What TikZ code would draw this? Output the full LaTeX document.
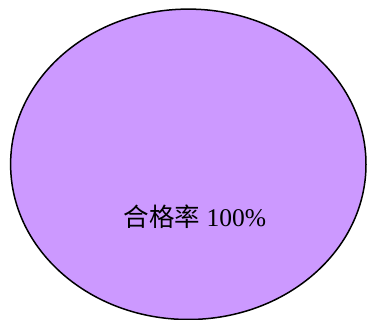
\documentclass[tikz,border=0pt]{standalone}
\usepackage{fontspec}
\setmainfont{Liberation Serif}
\newfontfamily\cjk{Noto Sans CJK SC}
\begin{document}
\begin{tikzpicture}[x=1pt,y=-1pt,
  slice/.style={fill={rgb,255:red,204;green,153;blue,255},draw=black,line width=1.5pt},
  lbl/.style={font=\fontsize{25.5}{28}\selectfont,inner sep=0pt}]
\useasboundingbox (0,0) rectangle (367,320);
\begin{scope}
\clip (0,0) rectangle (367,320);
\draw[slice] (188.3,164.3) ellipse [x radius=177.7, y radius=155.2];
\end{scope}
\node[lbl,anchor=base] (label) at (195,227) {{\cjk 合格率} 100\%};
\end{tikzpicture}
\end{document}
